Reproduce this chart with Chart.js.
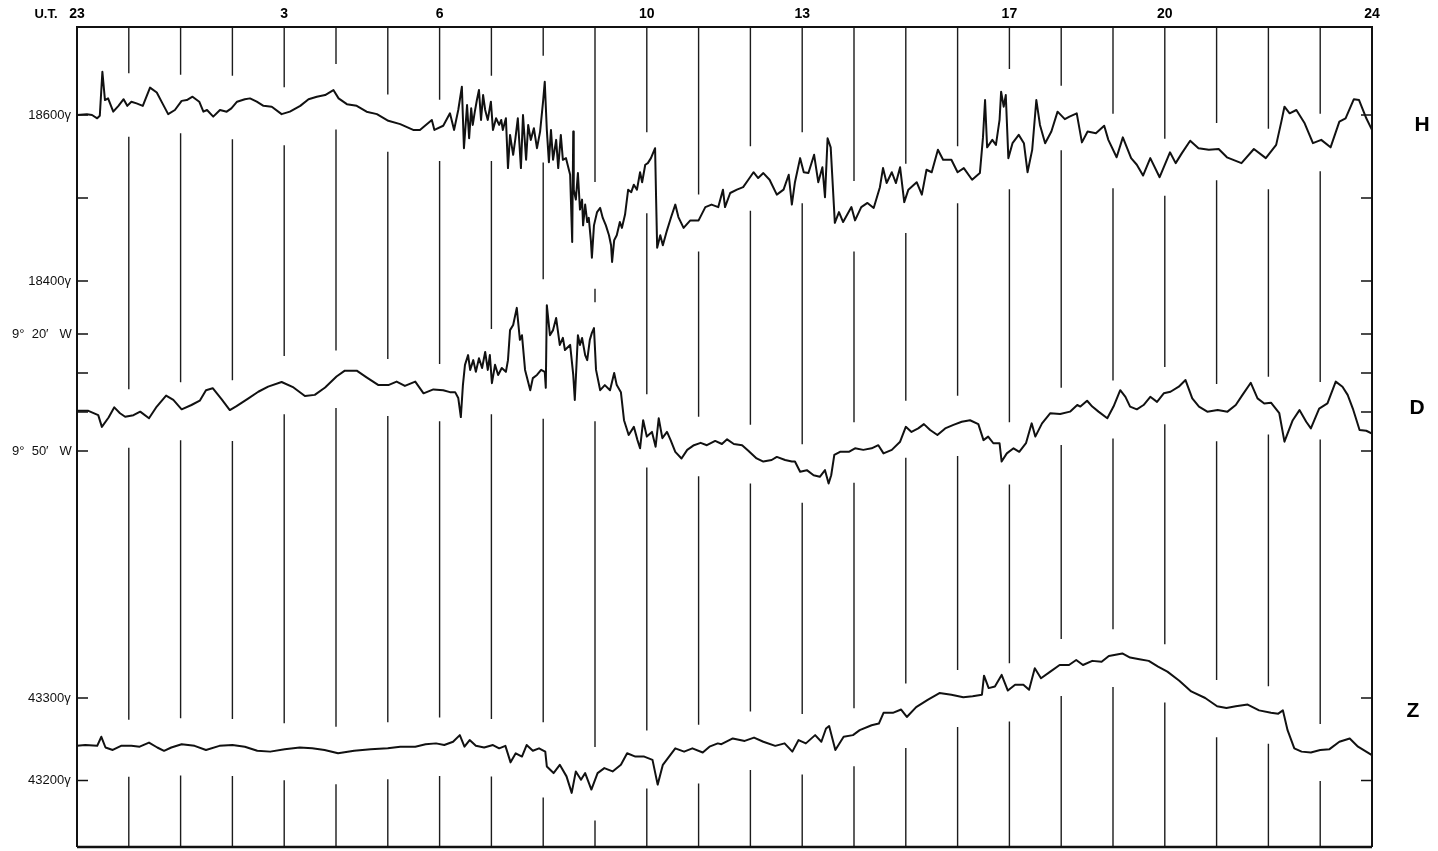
<!DOCTYPE html>
<html lang="en">
<head>
    <meta charset="UTF-8">
    <title>Magnetogram H D Z</title>
    <script src="https://cdn.jsdelivr.net/npm/chart.js"></script>
    <style>
        body {
            margin: 0;
            background: #fff;
        }
        canvas {
            display: block;
        }
    </style>
</head>
<body>
    <canvas id="magChart" width="1438" height="851"></canvas>

    <script>
        // hours counted from 23 U.T. of the previous day
        const tickHours = [0, 4, 7, 11, 14, 18, 21, 25];
        const tickLabels = ['23', '3', '6', '10', '13', '17', '20', '24'];

        const hTicks = [18400, 18500, 18600];
        const hLabelled = [18400, 18600];
        const dTicks = [560, 570, 580, 590]; // minutes of arc west
        const dLabelled = [560, 590];
        const zTicks = [43200, 43300];
        const zLabelled = [43200, 43300];

        // H component, gamma
        const hTrace = [
            [0, 18600], [0.19, 18601], [0.29, 18600], [0.39, 18596], [0.44, 18599], [0.49, 18652], [0.54, 18618],
            [0.6, 18620], [0.7, 18604], [0.8, 18611], [0.9, 18619], [0.97, 18611], [1.05, 18616], [1.15, 18614],
            [1.27, 18611], [1.41, 18633], [1.54, 18627], [1.65, 18614], [1.76, 18601], [1.89, 18606], [2.02, 18617],
            [2.12, 18618], [2.23, 18622], [2.36, 18616], [2.44, 18604], [2.51, 18606], [2.63, 18598], [2.76, 18606],
            [2.89, 18604], [2.98, 18608], [3.09, 18616], [3.24, 18619], [3.34, 18620], [3.47, 18616], [3.6, 18611],
            [3.76, 18610], [3.95, 18601], [4.11, 18604], [4.31, 18611], [4.47, 18619], [4.63, 18622], [4.79, 18624],
            [4.95, 18630], [5.05, 18620], [5.21, 18613], [5.4, 18611], [5.59, 18604], [5.79, 18601], [6.01, 18593],
            [6.24, 18589], [6.49, 18582], [6.62, 18582], [6.85, 18594], [6.9, 18582], [7.07, 18587], [7.2, 18602],
            [7.28, 18582], [7.36, 18606], [7.43, 18634], [7.47, 18560], [7.53, 18612], [7.57, 18572], [7.61, 18608],
            [7.64, 18588], [7.68, 18604], [7.72, 18618], [7.76, 18630], [7.8, 18594], [7.84, 18624], [7.88, 18606],
            [7.93, 18594], [7.99, 18616], [8.03, 18582], [8.09, 18596], [8.15, 18588], [8.19, 18594], [8.22, 18582],
            [8.28, 18596], [8.32, 18536], [8.36, 18576], [8.42, 18552], [8.46, 18570], [8.51, 18596], [8.57, 18536],
            [8.61, 18600], [8.67, 18546], [8.71, 18588], [8.76, 18570], [8.82, 18584], [8.88, 18560], [8.94, 18580],
            [9.0, 18618], [9.03, 18640], [9.07, 18582], [9.11, 18543], [9.15, 18582], [9.19, 18546], [9.25, 18570],
            [9.29, 18536], [9.34, 18576], [9.38, 18546], [9.44, 18548], [9.52, 18528], [9.56, 18447], [9.58, 18580],
            [9.59, 18510], [9.63, 18498], [9.67, 18530], [9.71, 18486], [9.75, 18498], [9.77, 18467], [9.81, 18492],
            [9.85, 18471], [9.88, 18476], [9.92, 18449], [9.94, 18428], [9.98, 18467], [10.04, 18483], [10.1, 18488],
            [10.15, 18476], [10.21, 18467], [10.27, 18455], [10.31, 18443], [10.33, 18423], [10.37, 18449], [10.42, 18455],
            [10.48, 18471], [10.52, 18464], [10.58, 18480], [10.64, 18510], [10.7, 18507], [10.75, 18516], [10.81, 18510],
            [10.87, 18531], [10.91, 18519], [10.97, 18540], [11.02, 18542], [11.08, 18548], [11.16, 18560], [11.18, 18498],
            [11.2, 18440], [11.26, 18455], [11.31, 18443], [11.39, 18461], [11.47, 18477], [11.55, 18492], [11.61, 18477],
            [11.71, 18464], [11.84, 18473], [12.0, 18473], [12.13, 18489], [12.25, 18492], [12.38, 18489], [12.47, 18510],
            [12.51, 18489], [12.61, 18506], [12.74, 18510], [12.86, 18513], [12.96, 18522], [13.06, 18531], [13.15, 18524],
            [13.25, 18530], [13.37, 18522], [13.51, 18504], [13.64, 18510], [13.74, 18528], [13.8, 18492], [13.86, 18519],
            [13.96, 18548], [14.03, 18531], [14.12, 18530], [14.23, 18552], [14.31, 18519], [14.39, 18537], [14.44, 18501],
            [14.49, 18572], [14.55, 18561], [14.63, 18470], [14.71, 18483], [14.79, 18471], [14.95, 18489], [15.02, 18473],
            [15.14, 18489], [15.26, 18494], [15.38, 18488], [15.5, 18513], [15.56, 18536], [15.63, 18518], [15.73, 18531],
            [15.81, 18518], [15.89, 18537], [15.97, 18495], [16.05, 18510], [16.21, 18519], [16.31, 18504], [16.4, 18534],
            [16.5, 18531], [16.62, 18558], [16.72, 18546], [16.88, 18546], [17.0, 18531], [17.12, 18536], [17.28, 18522],
            [17.43, 18530], [17.49, 18573], [17.53, 18618], [17.57, 18561], [17.67, 18570], [17.74, 18564], [17.81, 18594],
            [17.84, 18628], [17.89, 18610], [17.93, 18624], [17.98, 18548], [18.06, 18566], [18.18, 18576], [18.28, 18566],
            [18.35, 18531], [18.44, 18558], [18.52, 18618], [18.59, 18588], [18.69, 18566], [18.81, 18580], [18.93, 18604],
            [19.07, 18595], [19.16, 18598], [19.3, 18602], [19.4, 18567], [19.51, 18580], [19.67, 18578], [19.83, 18587],
            [19.91, 18570], [20.07, 18549], [20.19, 18573], [20.35, 18548], [20.46, 18540], [20.58, 18527], [20.72, 18548],
            [20.9, 18525], [21.1, 18555], [21.21, 18542], [21.33, 18554], [21.49, 18569], [21.65, 18560], [21.85, 18558],
            [22.04, 18559], [22.2, 18549], [22.48, 18542], [22.72, 18559], [22.95, 18548], [23.15, 18564], [23.25, 18592],
            [23.31, 18610], [23.41, 18602], [23.54, 18606], [23.7, 18590], [23.86, 18566], [24.02, 18570], [24.2, 18561],
            [24.37, 18592], [24.49, 18596], [24.65, 18619], [24.75, 18618], [24.89, 18596], [25.0, 18582]
        ];

        // D component, minutes of arc west (560 = 9 deg 20')
        const dTrace = [
            [0, 579.7], [0.22, 579.7], [0.41, 580.8], [0.48, 583.8], [0.61, 581.4], [0.72, 578.8], [0.83, 580.3],
            [0.93, 581.2], [1.09, 580.8], [1.22, 579.9], [1.39, 581.6], [1.54, 578.6], [1.72, 575.8], [1.86, 576.9],
            [2.02, 579.3], [2.21, 578.2], [2.37, 577.1], [2.49, 574.4], [2.62, 573.9], [2.79, 576.7], [2.95, 579.5],
            [3.08, 578.5], [3.31, 576.5], [3.5, 574.8], [3.69, 573.5], [3.95, 572.3], [4.18, 573.7], [4.4, 575.9],
            [4.59, 575.6], [4.79, 573.7], [5.01, 570.9], [5.17, 569.4], [5.4, 569.4], [5.59, 571.1], [5.82, 573.1],
            [6.01, 573.1], [6.17, 572.2], [6.33, 573.3], [6.53, 572.2], [6.69, 575.2], [6.88, 574.2], [7.07, 574.4],
            [7.2, 574.9], [7.3, 574.9], [7.36, 576.4], [7.41, 581.3], [7.45, 573.1], [7.49, 567.9], [7.55, 565.4],
            [7.59, 569.2], [7.65, 566.7], [7.7, 569.7], [7.76, 566.2], [7.82, 568.7], [7.88, 564.6], [7.93, 569.2],
            [7.97, 565.4], [8.01, 572.6], [8.07, 567.9], [8.13, 570.5], [8.2, 568.7], [8.28, 569.7], [8.32, 566.7],
            [8.36, 559.0], [8.42, 557.7], [8.49, 553.3], [8.55, 561.5], [8.59, 560.3], [8.65, 569.2], [8.75, 574.4],
            [8.8, 571.3], [8.88, 570.5], [8.96, 569.2], [9.03, 569.7], [9.05, 573.8], [9.07, 552.6], [9.13, 560.3],
            [9.19, 559.0], [9.25, 555.9], [9.32, 562.8], [9.38, 561.0], [9.42, 564.1], [9.52, 562.8], [9.58, 570.5],
            [9.61, 576.9], [9.67, 560.3], [9.71, 562.8], [9.75, 561.0], [9.81, 565.4], [9.85, 566.7], [9.9, 561.5],
            [9.94, 559.7], [9.98, 558.5], [10.02, 569.2], [10.1, 574.4], [10.19, 573.1], [10.29, 574.4], [10.37, 570.0],
            [10.42, 573.1], [10.5, 574.9], [10.56, 582.1], [10.62, 584.6], [10.65, 585.9], [10.75, 583.8], [10.82, 587.2],
            [10.87, 589.3], [10.93, 582.1], [11.0, 586.3], [11.1, 585.1], [11.17, 588.9], [11.23, 581.6], [11.3, 586.7],
            [11.39, 585.1], [11.46, 587.2], [11.55, 590.2], [11.67, 591.9], [11.78, 589.7], [11.91, 588.5], [12.04, 587.9],
            [12.16, 588.5], [12.32, 587.4], [12.45, 588.2], [12.55, 587.0], [12.68, 588.2], [12.84, 588.5], [12.96, 589.9],
            [13.12, 591.9], [13.25, 592.7], [13.41, 592.3], [13.51, 591.5], [13.67, 592.3], [13.8, 592.7], [13.86, 592.7],
            [13.96, 595.3], [14.09, 594.9], [14.22, 596.2], [14.34, 596.6], [14.44, 594.9], [14.51, 598.3], [14.56, 596.2],
            [14.62, 591.0], [14.73, 590.2], [14.9, 590.2], [15.02, 589.3], [15.18, 589.7], [15.34, 589.3], [15.47, 588.5],
            [15.57, 590.6], [15.73, 589.7], [15.89, 587.6], [16.0, 583.8], [16.11, 585.1], [16.24, 584.2], [16.35, 583.1],
            [16.47, 584.6], [16.61, 585.9], [16.76, 584.2], [16.92, 583.3], [17.08, 582.5], [17.24, 582.1], [17.4, 583.1],
            [17.5, 587.2], [17.59, 586.3], [17.69, 588.0], [17.81, 588.0], [17.85, 592.7], [17.95, 590.6], [18.08, 589.3],
            [18.19, 590.2], [18.32, 588.0], [18.43, 582.9], [18.5, 586.3], [18.63, 582.9], [18.79, 580.3], [18.98, 580.5],
            [19.17, 579.9], [19.31, 578.2], [19.37, 578.6], [19.5, 577.1], [19.6, 578.6], [19.72, 579.9], [19.89, 581.6],
            [20.01, 578.6], [20.14, 574.4], [20.24, 576.1], [20.33, 578.6], [20.46, 579.3], [20.59, 578.2], [20.72, 576.1],
            [20.85, 577.4], [20.98, 575.2], [21.11, 574.8], [21.27, 573.5], [21.4, 571.8], [21.53, 576.5], [21.66, 578.6],
            [21.82, 579.9], [22.02, 579.5], [22.21, 579.9], [22.37, 578.2], [22.5, 575.6], [22.66, 572.5], [22.79, 576.5],
            [22.92, 577.8], [23.05, 577.6], [23.21, 580.3], [23.31, 587.6], [23.47, 582.1], [23.6, 579.5], [23.73, 582.5],
            [23.82, 584.2], [23.98, 579.1], [24.14, 577.8], [24.3, 572.2], [24.43, 573.5], [24.53, 575.6], [24.63, 579.1],
            [24.76, 584.6], [24.89, 584.8], [25.0, 585.5]
        ];

        // Z component, gamma
        const zTrace = [
            [0, 43242], [0.16, 43243], [0.39, 43242], [0.47, 43253], [0.55, 43240], [0.69, 43237], [0.85, 43242],
            [1.05, 43242], [1.21, 43241], [1.39, 43246], [1.55, 43240], [1.68, 43236], [1.82, 43240], [2.02, 43244],
            [2.27, 43242], [2.49, 43237], [2.75, 43242], [3.0, 43243], [3.24, 43241], [3.48, 43236], [3.73, 43235],
            [4.01, 43238], [4.3, 43240], [4.54, 43239], [4.78, 43237], [5.04, 43233], [5.35, 43236], [5.67, 43238],
            [6.0, 43239], [6.24, 43241], [6.53, 43241], [6.73, 43244], [6.93, 43245], [7.09, 43243], [7.26, 43247],
            [7.39, 43255], [7.48, 43241], [7.58, 43249], [7.7, 43242], [7.86, 43240], [8.03, 43243], [8.15, 43239],
            [8.27, 43242], [8.37, 43222], [8.47, 43233], [8.59, 43229], [8.68, 43243], [8.8, 43236], [8.92, 43239],
            [9.04, 43235], [9.07, 43217], [9.2, 43209], [9.32, 43219], [9.45, 43205], [9.55, 43185], [9.63, 43211],
            [9.73, 43201], [9.81, 43209], [9.93, 43189], [10.05, 43209], [10.18, 43215], [10.34, 43211], [10.5, 43219],
            [10.62, 43233], [10.78, 43229], [10.95, 43229], [11.11, 43225], [11.21, 43195], [11.31, 43219], [11.43, 43229],
            [11.55, 43239], [11.72, 43235], [11.88, 43239], [12.08, 43234], [12.21, 43241], [12.37, 43245], [12.44, 43244],
            [12.66, 43251], [12.89, 43248], [13.07, 43252], [13.25, 43247], [13.48, 43242], [13.66, 43245], [13.81, 43235],
            [13.93, 43249], [14.07, 43245], [14.25, 43255], [14.37, 43247], [14.46, 43263], [14.52, 43266], [14.64, 43237],
            [14.8, 43253], [14.98, 43255], [15.11, 43261], [15.34, 43267], [15.48, 43269], [15.57, 43282], [15.75, 43282],
            [15.91, 43286], [16.02, 43277], [16.2, 43289], [16.43, 43298], [16.65, 43306], [16.88, 43304], [17.11, 43301],
            [17.29, 43302], [17.47, 43304], [17.51, 43327], [17.6, 43312], [17.72, 43314], [17.85, 43328], [17.97, 43309],
            [18.11, 43316], [18.27, 43316], [18.38, 43310], [18.49, 43336], [18.61, 43324], [18.79, 43332], [18.97, 43340],
            [19.15, 43340], [19.29, 43346], [19.42, 43340], [19.6, 43345], [19.78, 43344], [19.92, 43351], [20.18, 43354],
            [20.33, 43349], [20.51, 43347], [20.69, 43345], [20.87, 43338], [21.05, 43332], [21.28, 43321], [21.51, 43308],
            [21.78, 43300], [22.01, 43290], [22.19, 43288], [22.37, 43290], [22.6, 43292], [22.82, 43285], [23.05, 43282],
            [23.19, 43281], [23.28, 43285], [23.37, 43261], [23.5, 43239], [23.64, 43235], [23.82, 43234], [24.0, 43237],
            [24.18, 43238], [24.37, 43247], [24.57, 43251], [24.73, 43241], [24.99, 43231]
        ];

        const traces = [
            { label: 'H', points: hTrace, axis: 'yH' },
            { label: 'D', points: dTrace, axis: 'yD' },
            { label: 'Z', points: zTrace, axis: 'yZ' }
        ];

        const labelFont = { family: 'Liberation Sans', size: 13 };

        // pixel band a trace covers around one hour mark, the hour line is broken there
        function traceBand(tr, scale, h) {
            const ys = [];
            const pts = tr.points;
            for (let i = 0; i < pts.length; i++) {
                if (Math.abs(pts[i][0] - h) <= 0.1) ys.push(scale.getPixelForValue(pts[i][1]));
                if (i > 0 && pts[i - 1][0] <= h && pts[i][0] >= h) {
                    const f = (h - pts[i - 1][0]) / ((pts[i][0] - pts[i - 1][0]) || 1);
                    ys.push(scale.getPixelForValue(pts[i - 1][1] + f * (pts[i][1] - pts[i - 1][1])));
                }
            }
            return [Math.min(...ys) - 26, Math.max(...ys) + 31];
        }

        const hourLines = {
            id: 'hourLines',
            beforeDatasetsDraw(chart) {
                const { ctx, chartArea: a, scales } = chart;
                ctx.save();
                ctx.strokeStyle = '#1c1c1c';
                ctx.lineWidth = 1.4;
                for (let h = 1; h < 25; h++) {
                    const px = scales.x.getPixelForValue(h);
                    const gaps = traces.map(tr => traceBand(tr, scales[tr.axis], h)).sort((p, q) => p[0] - q[0]);
                    let y0 = a.top;
                    ctx.beginPath();
                    gaps.forEach(([g0, g1]) => {
                        if (g0 > y0) {
                            ctx.moveTo(px, y0);
                            ctx.lineTo(px, g0);
                        }
                        y0 = Math.max(y0, g1);
                    });
                    if (y0 < a.bottom) {
                        ctx.moveTo(px, y0);
                        ctx.lineTo(px, a.bottom);
                    }
                    ctx.stroke();
                }
                ctx.restore();
            }
        };

        const frame = {
            id: 'frame',
            afterDatasetsDraw(chart) {
                const { ctx, chartArea: a, scales } = chart;
                ctx.save();
                ctx.strokeStyle = '#111';
                ctx.lineWidth = 2;
                ctx.beginPath();
                ctx.moveTo(a.left, a.bottom);
                ctx.lineTo(a.left, a.top);
                ctx.lineTo(a.right, a.top);
                ctx.lineTo(a.right, a.bottom);
                ctx.stroke();
                ctx.lineWidth = 2.6;
                ctx.beginPath();
                ctx.moveTo(a.left, a.bottom);
                ctx.lineTo(a.right, a.bottom);
                ctx.stroke();

                // inward tick marks on both sides
                ctx.lineWidth = 1.6;
                ctx.beginPath();
                ['yH', 'yD', 'yZ'].forEach(id => {
                    const s = scales[id];
                    s.ticks.forEach(t => {
                        const py = s.getPixelForValue(t.value);
                        ctx.moveTo(a.left, py);
                        ctx.lineTo(a.left + 11, py);
                        ctx.moveTo(a.right, py);
                        ctx.lineTo(a.right - 11, py);
                    });
                });
                ctx.stroke();

                ctx.fillStyle = '#000';
                ctx.textBaseline = 'middle';
                ctx.textAlign = 'center';
                ctx.font = 'bold 13px "Liberation Sans"';
                ctx.fillText('U.T.', 46, 14);

                ctx.font = 'bold 21px "Liberation Sans"';
                ctx.fillText('H', a.right + 50, 125);
                ctx.fillText('D', a.right + 45, 408);
                ctx.fillText('Z', a.right + 41, 711);
                ctx.restore();
            }
        };

        // outer axis takes the label space; inner axes have no width and
        // mirrored labels (mirrored labels are not clipped to the axis box)
        function yScale(min, max, ticks, labelled, fmt, outer, reverse, pad) {
            return {
                type: 'linear',
                position: 'left',
                weight: outer ? 1 : 0,
                min: min,
                max: max,
                reverse: reverse,
                afterBuildTicks: s => { s.ticks = ticks.map(v => ({ value: v })); },
                afterFit: s => {
                    s.width = outer ? 77 : 0;
                    s.paddingTop = 0;
                    s.paddingBottom = 0;
                },
                grid: { display: false, drawTicks: false },
                border: { display: false },
                ticks: {
                    mirror: !outer,
                    padding: pad,
                    autoSkip: false,
                    color: '#111',
                    font: labelFont,
                    callback: v => labelled.includes(v) ? fmt(v) : ''
                }
            };
        }

        const ctx = document.getElementById('magChart').getContext('2d');
        new Chart(ctx, {
            type: 'line',
            data: {
                datasets: traces.map(tr => ({
                    label: tr.label,
                    data: tr.points.map(p => ({ x: p[0], y: p[1] })),
                    yAxisID: tr.axis,
                    borderColor: '#111',
                    borderWidth: 2,
                    borderJoinStyle: 'round',
                    pointRadius: 0,
                    tension: 0,
                    fill: false
                }))
            },
            options: {
                responsive: false,
                animation: false,
                devicePixelRatio: 1,
                layout: { padding: { left: 0, right: 66, top: 0, bottom: 4 } },
                plugins: {
                    legend: { display: false },
                    tooltip: { enabled: false }
                },
                scales: {
                    x: {
                        type: 'linear',
                        position: 'top',
                        min: 0,
                        max: 25,
                        afterBuildTicks: s => { s.ticks = tickHours.map(v => ({ value: v })); },
                        afterFit: s => {
                            s.height = 27;
                            s.paddingLeft = 0;
                            s.paddingRight = 0;
                        },
                        grid: { display: false, drawTicks: false },
                        border: { display: false },
                        ticks: {
                            padding: 4,
                            maxRotation: 0,
                            autoSkip: false,
                            color: '#000',
                            font: { family: 'Liberation Sans', size: 14, weight: 'bold' },
                            callback: v => tickLabels[tickHours.indexOf(v)]
                        }
                    },
                    yD: yScale(481.3, 691.5, dTicks, dLabelled,
                        v => Math.floor(v / 60) + '°  ' + (v % 60) + '′   W', false, true, -65),
                    yZ: yScale(43119.4, 44113.3, zTicks, zLabelled, v => v + 'γ', false, false, -49),
                    yH: yScale(17718, 18706, hTicks, hLabelled, v => v + 'γ', true, false, 6)
                }
            },
            plugins: [hourLines, frame]
        });
    </script>
</body>
</html>
